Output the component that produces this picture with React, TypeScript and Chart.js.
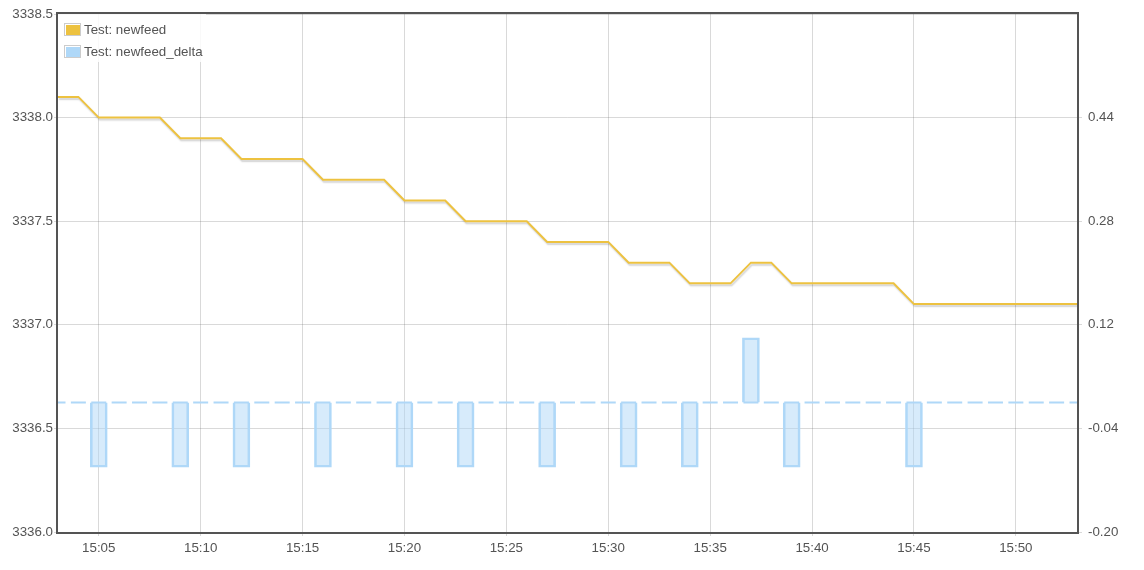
import React, { useEffect, useRef } from "react";
import { Chart, registerables } from "chart.js";

Chart.register(...registerables);

// minutes after 15:00
const minutes = [
  3, 4, 5, 6, 7, 8, 9, 10, 11, 12, 13, 14, 15, 16, 17, 18, 19, 20, 21, 22, 23, 24, 25, 26, 27,
  28, 29, 30, 31, 32, 33, 34, 35, 36, 37, 38, 39, 40, 41, 42, 43, 44, 45, 46, 47, 48, 49, 50,
  51, 52, 53,
];

const newfeed = [
  3338.1, 3338.1,
  3338.0, 3338.0, 3338.0, 3338.0,
  3337.9, 3337.9, 3337.9,
  3337.8, 3337.8, 3337.8, 3337.8,
  3337.7, 3337.7, 3337.7, 3337.7,
  3337.6, 3337.6, 3337.6,
  3337.5, 3337.5, 3337.5, 3337.5,
  3337.4, 3337.4, 3337.4, 3337.4,
  3337.3, 3337.3, 3337.3,
  3337.2, 3337.2, 3337.2,
  3337.3, 3337.3,
  3337.2, 3337.2, 3337.2, 3337.2, 3337.2, 3337.2,
  3337.1, 3337.1, 3337.1, 3337.1, 3337.1, 3337.1, 3337.1, 3337.1, 3337.1,
];

const newfeedDelta = [
  0, 0,
  -0.1, 0, 0, 0,
  -0.1, 0, 0,
  -0.1, 0, 0, 0,
  -0.1, 0, 0, 0,
  -0.1, 0, 0,
  -0.1, 0, 0, 0,
  -0.1, 0, 0, 0,
  -0.1, 0, 0,
  -0.1, 0, 0,
  0.1, 0,
  -0.1, 0, 0, 0, 0, 0,
  -0.1, 0, 0, 0, 0, 0, 0, 0, 0,
];

const zeroLine = minutes.map(() => 0);

const leftTicks = [3336.0, 3336.5, 3337.0, 3337.5, 3338.0, 3338.5];
const rightTicks = [-0.2, -0.04, 0.12, 0.28, 0.44];
const xTicks = [5, 10, 15, 20, 25, 30, 35, 40, 45, 50];

const seriesNames = ["Test: newfeed", "Test: newfeed_delta"];
const YELLOW = "#edc240";
const BLUE = "#afd8f8";
const TEXT = "#545454";
const GRID = "rgba(84,84,84,0.22)";
const FONT = "'Liberation Sans', Arial, sans-serif";
const FS = 13.33;

const fmtTime = (m: number) => `15:${String(m).padStart(2, "0")}`;

const framePlugin = {
  id: "frameLegend",
  beforeDatasetDraw(chart: any, args: any) {
    if (args.index === 0) {
      const ctx = chart.ctx;
      ctx.save();
      ctx.shadowColor = "rgba(0,0,0,0.18)";
      ctx.shadowOffsetX = 1;
      ctx.shadowOffsetY = 2;
      ctx.shadowBlur = 1.5;
    }
  },
  afterDatasetDraw(chart: any, args: any) {
    if (args.index === 0) chart.ctx.restore();
  },
  afterDraw(chart: any) {
    const ctx = chart.ctx;
    const a = chart.chartArea;
    ctx.save();

    // legend
    ctx.fillStyle = "rgba(255,255,255,0.85)";
    ctx.fillRect(a.left, a.top, 148, 48);
    const colors = [YELLOW, BLUE];
    ctx.font = `${FS}px ${FONT}`;
    ctx.textBaseline = "middle";
    ctx.textAlign = "left";
    seriesNames.forEach((name, i) => {
      const y = a.top + 9 + i * 22;
      ctx.fillStyle = "#fff";
      ctx.fillRect(a.left + 6, y, 17, 13);
      ctx.strokeStyle = "#ccc";
      ctx.lineWidth = 1;
      ctx.strokeRect(a.left + 6.5, y + 0.5, 16, 12);
      ctx.fillStyle = colors[i];
      ctx.fillRect(a.left + 8, y + 2, 14, 10);
      ctx.fillStyle = TEXT;
      ctx.fillText(name, a.left + 26, y + 7);
    });

    ctx.strokeStyle = TEXT;
    ctx.lineWidth = 2;
    ctx.strokeRect(a.left - 1, a.top - 1, a.right - a.left + 2, a.bottom - a.top + 2);
    ctx.restore();
  },
};

export default function App() {
  const ref = useRef<HTMLCanvasElement>(null);

  useEffect(() => {
    if (!ref.current) return;
    const chart = new Chart(ref.current, {
      type: "bar",
      data: {
        datasets: [
          {
            type: "line",
            label: seriesNames[0],
            data: minutes.map((m, i) => ({ x: m, y: newfeed[i] })),
            borderColor: YELLOW,
            borderWidth: 2,
            pointRadius: 0,
            tension: 0,
            fill: false,
            yAxisID: "y",
            order: 0,
          } as any,
          {
            type: "bar",
            label: seriesNames[1],
            data: minutes.map((m, i) => ({ x: m, y: newfeedDelta[i] })),
            backgroundColor: "rgba(175,216,248,0.5)",
            borderColor: BLUE,
            borderWidth: 2,
            barThickness: 17,
            borderSkipped: "start",
            yAxisID: "y2",
            order: 1,
          } as any,
          {
            type: "line",
            label: "zero",
            data: minutes.map((m, i) => ({ x: m, y: zeroLine[i] })),
            borderColor: BLUE,
            borderWidth: 2,
            borderDash: [15, 5.38],
            borderDashOffset: 7.5,
            pointRadius: 0,
            fill: false,
            yAxisID: "y2",
            order: 2,
          } as any,
        ],
      },
      options: {
        animation: false,
        responsive: false,
        maintainAspectRatio: false,
        layout: { padding: { top: 14, left: 0, right: 0, bottom: 0 } },
        plugins: { legend: { display: false }, tooltip: { enabled: false } },
        scales: {
          x: {
            type: "linear",
            min: 3,
            max: 53,
            offset: false,
            afterFit: (s: any) => {
              s.height = 38;
            },
            afterBuildTicks: (s: any) => {
              s.ticks = xTicks.map((v) => ({ value: v }));
            },
            grid: { color: GRID, tickLength: 4, drawTicks: true, offset: false },
            border: { display: false },
            ticks: {
              color: TEXT,
              font: { family: FONT, size: FS },
              padding: 4,
              maxRotation: 0,
              autoSkip: false,
              callback: (v: any) => fmtTime(Number(v)),
            },
          },
          y: {
            type: "linear",
            position: "left",
            min: 3336.0,
            max: 3338.5,
            afterFit: (s: any) => {
              s.width = 58;
            },
            afterBuildTicks: (s: any) => {
              s.ticks = leftTicks.map((v) => ({ value: v }));
            },
            grid: { color: GRID, tickLength: 4 },
            border: { display: false },
            ticks: {
              color: TEXT,
              font: { family: FONT, size: FS },
              padding: 1,
              callback: (v: any) => Number(v).toFixed(1),
            },
          },
          y2: {
            type: "linear",
            position: "right",
            min: -0.2,
            max: 0.6,
            afterFit: (s: any) => {
              s.width = 67;
            },
            afterBuildTicks: (s: any) => {
              s.ticks = rightTicks.map((v) => ({ value: v }));
            },
            grid: { color: GRID, tickLength: 5, drawOnChartArea: false },
            border: { display: false },
            ticks: {
              color: TEXT,
              font: { family: FONT, size: FS },
              padding: 6,
              callback: (v: any) => Number(v).toFixed(2),
            },
          },
        },
      } as any,
      plugins: [framePlugin],
    });
    return () => chart.destroy();
  }, []);

  return (
    <div style={{ position: "fixed", left: 0, top: 0, width: 1144, height: 570, background: "#fff" }}>
      <canvas ref={ref} width={1144} height={570} style={{ width: 1144, height: 570 }} />
    </div>
  );
}
